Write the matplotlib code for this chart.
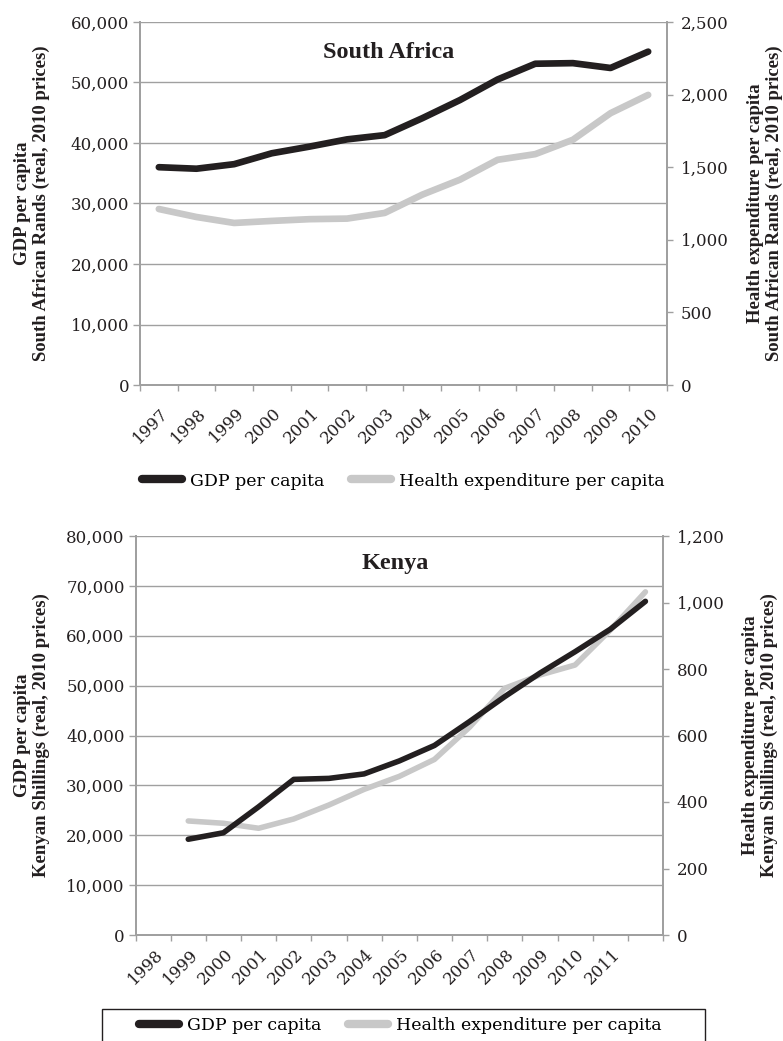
import matplotlib
matplotlib.use('Agg')
import matplotlib.pyplot as plt
from matplotlib.lines import Line2D
from matplotlib.patches import Rectangle
from matplotlib.ticker import FuncFormatter
import numpy as np

# ---------------- data ----------------
sa_years = ['1997', '1998', '1999', '2000', '2001', '2002', '2003',
            '2004', '2005', '2006', '2007', '2008', '2009', '2010']
sa_gdp = [36000, 35750, 36500, 38300, 39400, 40600, 41300,
          44100, 47100, 50500, 53100, 53200, 52400, 55100]
sa_health = [1212, 1157, 1116, 1130, 1142, 1146, 1185,
             1311, 1414, 1551, 1590, 1689, 1872, 1998]

# Kenya: 15 category slots, labelled 1998-2011 (last slot unlabelled);
# the data occupy slots 2-15 as in the original figure
ke_labels = ['1998', '1999', '2000', '2001', '2002', '2003', '2004',
             '2005', '2006', '2007', '2008', '2009', '2010', '2011', '']
ke_gdp = [19200, 20500, 25700, 31200, 31400, 32300, 34900,
          38000, 42800, 47800, 52500, 56800, 61300, 66900]
ke_health = [343, 336, 321, 349, 391, 438, 477,
             528, 625, 742, 782, 812, 917, 1032]

series_names = ['GDP per capita', 'Health expenditure per capita']

# ---------------- style ----------------
BLACK = '#231f20'
GRAY = '#c8c8c8'
AXC = '#a0a0a0'
TXT = '#231f20'
W, H = 783, 1041
plt.rcParams['font.family'] = ['DejaVu Serif']
BOLD = ['Liberation Serif', 'DejaVu Serif']

fig = plt.figure(figsize=(W / 100, H / 100), dpi=100)


def rect(l, t, r, b):
    return [l / W, 1 - b / H, (r - l) / W, (b - t) / H]


fmt = FuncFormatter(lambda v, p: f'{v:,.0f}')


def make_panel(r, labels, data_x, gdp, health, gdp_lim, gdp_step, h_lim, h_step,
               title, title_xy, ylab_l, ylab_r, lab_lx, lab_rx, lw, xpad):
    ax = fig.add_axes(r)
    ax2 = ax.twinx()
    n = len(labels)
    ax.set_xlim(-0.5, n - 0.5)
    ax.set_ylim(0, gdp_lim)
    ax2.set_ylim(0, h_lim)
    ax.set_yticks(np.arange(0, gdp_lim + 1, gdp_step))
    ax2.set_yticks(np.arange(0, h_lim + 1, h_step))
    ax.yaxis.set_major_formatter(fmt)
    ax2.yaxis.set_major_formatter(fmt)
    ax.grid(axis='y', color=AXC, linewidth=1.0)
    ax.set_axisbelow(True)
    for a in (ax, ax2):
        for s in a.spines.values():
            s.set_color(AXC)
            s.set_linewidth(1.3)
    ax.spines['top'].set_visible(False)
    ax2.spines['top'].set_visible(False)
    ax.tick_params(axis='y', direction='out', length=4.8, width=1.0, color=AXC,
                   labelsize=12, labelcolor=TXT, pad=3)
    ax2.tick_params(axis='y', direction='out', length=4, width=1.0, color=AXC,
                    labelsize=12, labelcolor=TXT, pad=6)
    # category boundaries as ticks, labels at category centres
    ax.set_xticks(np.arange(-0.5, n, 1.0), minor=True)
    ax.set_xticks(np.arange(n) + 0.03)
    ax.set_xticklabels(labels)
    ax.tick_params(axis='x', which='minor', direction='out', length=4, width=1.0, color=AXC)
    ax.tick_params(axis='x', which='major', length=0, labelsize=12, labelcolor=TXT, pad=xpad)
    for lab in ax.get_xticklabels():
        lab.set_rotation(45)
        lab.set_ha('right')
        lab.set_va('top')
        lab.set_rotation_mode('anchor')

    ax2.plot(data_x, health, color=GRAY, lw=lw, solid_capstyle='round',
             solid_joinstyle='round', zorder=2)
    ax2.plot(data_x, gdp, color=BLACK, lw=lw, solid_capstyle='round',
             solid_joinstyle='round', zorder=3, transform=ax.transData)

    ax.text(title_xy[0], title_xy[1], title, transform=ax.transAxes, ha='center',
            va='center', fontsize=17.5, fontweight='bold', family=BOLD, color=TXT)
    ax.set_ylabel(ylab_l, fontsize=13.5, fontweight='bold', family=BOLD, color=TXT,
                  linespacing=1.15)
    ax.yaxis.set_label_coords(lab_lx, 0.5)
    ax2.set_ylabel(ylab_r, fontsize=13.5, fontweight='bold', family=BOLD, color=TXT,
                   linespacing=1.15, rotation=90)
    ax2.yaxis.set_label_coords(lab_rx, 0.5)
    return ax, ax2


# South Africa
make_panel(rect(140, 22, 667, 385), sa_years, np.arange(len(sa_years)),
           sa_gdp, sa_health, 60000, 10000, 2500, 500, 'South Africa', (0.472, 0.917),
           'GDP per capita\nSouth African Rands (real, 2010 prices)',
           'Health expenditure per capita\nSouth African Rands (real, 2010 prices)',
           -0.171, 1.151, 4.8, 14)

# Kenya
make_panel(rect(135.5, 536, 663, 935), ke_labels, np.arange(1, len(ke_labels)),
           ke_gdp, ke_health, 80000, 10000, 1200, 200, 'Kenya', (0.492, 0.932),
           'GDP per capita\nKenyan Shillings (real, 2010 prices)',
           'Health expenditure per capita\nKenyan Shillings (real, 2010 prices)',
           -0.162, 1.149, 4.0, 8)

handles = [Line2D([], [], color=BLACK, lw=6, solid_capstyle='round'),
           Line2D([], [], color=GRAY, lw=6, solid_capstyle='round')]

leg_kw = dict(ncol=2, frameon=False, fontsize=12.5, handlelength=2.3,
              handletextpad=0.45, columnspacing=1.55, loc='center')
fig.legend(handles, series_names, bbox_to_anchor=(403 / W, 1 - 481 / H), **leg_kw)
fig.legend(handles, series_names, bbox_to_anchor=(400 / W, 1 - 1026 / H), **leg_kw)
fig.add_artist(Rectangle((102 / W, -0.01), (705 - 102) / W, (1041 - 1009) / H + 0.01,
                         transform=fig.transFigure, fill=False, edgecolor=BLACK,
                         linewidth=1.0, clip_on=False))

fig.savefig('out.png', dpi=100)
